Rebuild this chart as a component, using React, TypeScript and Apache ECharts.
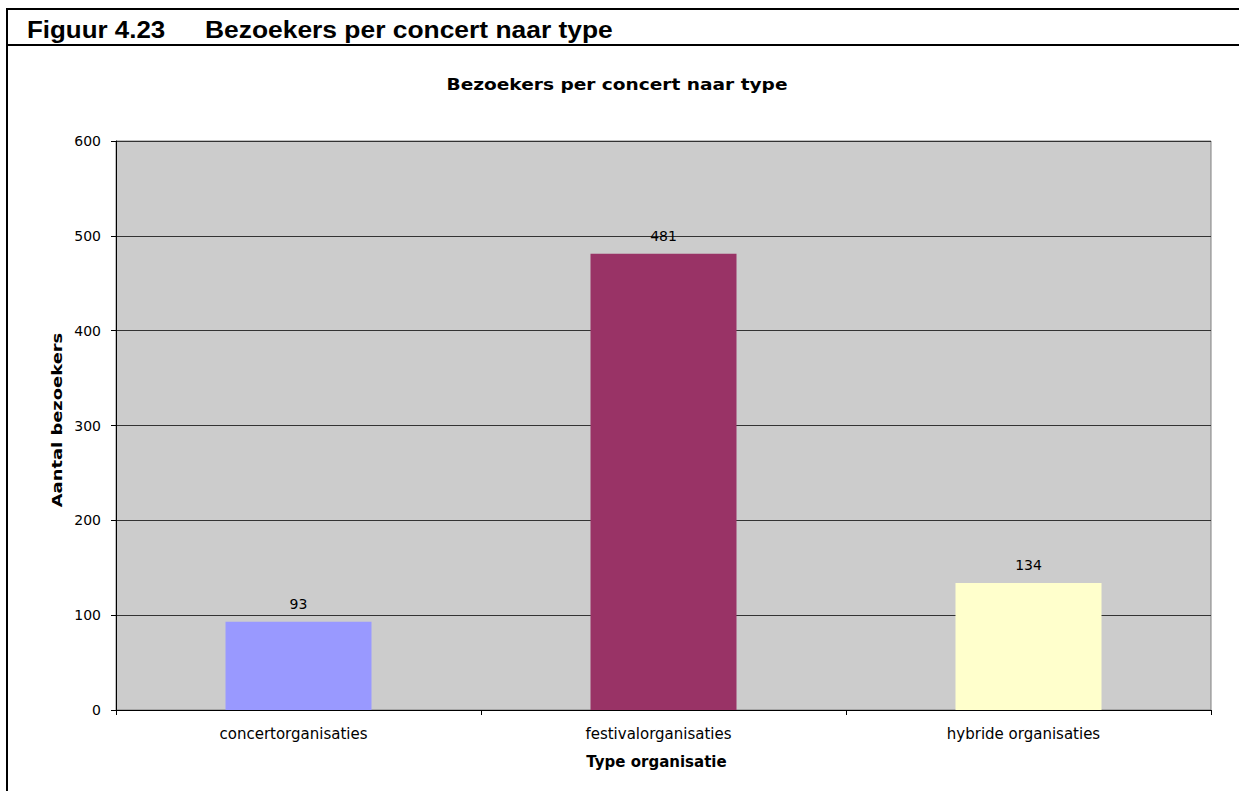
import React, { useEffect, useRef } from "react";
import * as echarts from "echarts";

const categories = ["concertorganisaties", "festivalorganisaties", "hybride organisaties"];
const visitors = [93, 481, 134];
const barColors = ["#9999FF", "#993366", "#FFFFCC"];
const figureLabel = "Figuur 4.23";
const figureTitle = "Bezoekers per concert naar type";
const chartTitle = "Bezoekers per concert naar type";
const yAxisName = "Aantal bezoekers";
const xAxisName = "Type organisatie";

export default function App() {
  const ref = useRef<HTMLDivElement>(null);
  useEffect(() => {
    if (!ref.current) return;
    const chart = echarts.init(ref.current, null, { renderer: "svg" });
    const font = "'DejaVu Sans', Verdana, sans-serif";
    const headFont = "bold 24px 'Liberation Sans', Arial, sans-serif";
    chart.setOption({
      animation: false,
      backgroundColor: "#FFFFFF",
      graphic: [
        { type: "line", shape: { x1: 6, y1: 9, x2: 1239, y2: 9 }, style: { stroke: "#000", lineWidth: 2 } },
        { type: "line", shape: { x1: 6, y1: 45, x2: 1239, y2: 45 }, style: { stroke: "#000", lineWidth: 2 } },
        { type: "line", shape: { x1: 7, y1: 8, x2: 7, y2: 791 }, style: { stroke: "#000", lineWidth: 2 } },
        {
          type: "text",
          x: 27,
          y: 29,
          scaleX: 1.08,
          style: { text: figureLabel, font: headFont, fill: "#000", verticalAlign: "middle" },
        },
        {
          type: "text",
          x: 205,
          y: 29,
          scaleX: 1.1,
          style: { text: figureTitle, font: headFont, fill: "#000", verticalAlign: "middle" },
        },
        {
          type: "text",
          x: 617,
          y: 84,
          scaleX: 1.16,
          style: {
            text: chartTitle,
            font: "bold 16px 'DejaVu Sans', Verdana, sans-serif",
            fill: "#000",
            align: "center",
            verticalAlign: "middle",
          },
        },
        {
          type: "text",
          x: 57,
          y: 420,
          rotation: Math.PI / 2,
          scaleX: 1.28,
          style: {
            text: yAxisName,
            font: "bold 14px 'DejaVu Sans', Verdana, sans-serif",
            fill: "#000",
            align: "center",
            verticalAlign: "middle",
          },
        },
      ],
      grid: {
        left: 116,
        top: 141,
        right: 28,
        bottom: 81,
        show: true,
        backgroundColor: "#CCCCCC",
        borderColor: "#808080",
        borderWidth: 1,
      },
      xAxis: {
        type: "category",
        data: categories,
        name: xAxisName,
        nameLocation: "middle",
        nameGap: 44,
        nameTextStyle: {
          fontFamily: font,
          fontSize: 15,
          fontWeight: "bold",
          color: "#000",
          padding: [0, 14, 0, 0],
        },
        axisLine: { lineStyle: { color: "#000", width: 1 } },
        axisTick: { show: true, length: 5, lineStyle: { color: "#000" } },
        axisLabel: { fontFamily: font, fontSize: 15, color: "#000", margin: 16, padding: [0, 10, 0, 0] },
      },
      yAxis: {
        type: "value",
        min: 0,
        max: 600,
        interval: 100,
        axisLine: { show: true, lineStyle: { color: "#000", width: 1 } },
        axisTick: { show: true, length: 5, lineStyle: { color: "#000" } },
        axisLabel: { fontFamily: font, fontSize: 14, color: "#000", margin: 15 },
        splitLine: { show: true, lineStyle: { color: "#333333", width: 1 } },
      },
      series: [
        {
          type: "bar",
          data: visitors.map((v, i) => ({ value: v, itemStyle: { color: barColors[i] } })),
          barCategoryGap: "60%",
          label: {
            show: true,
            position: "top",
            distance: 11,
            fontFamily: font,
            fontSize: 14,
            color: "#000",
          },
        },
      ],
    });
    return () => chart.dispose();
  }, []);
  return (
    <div
      ref={ref}
      style={{ position: "absolute", left: 0, top: 0, width: 1239, height: 791 }}
    />
  );
}
